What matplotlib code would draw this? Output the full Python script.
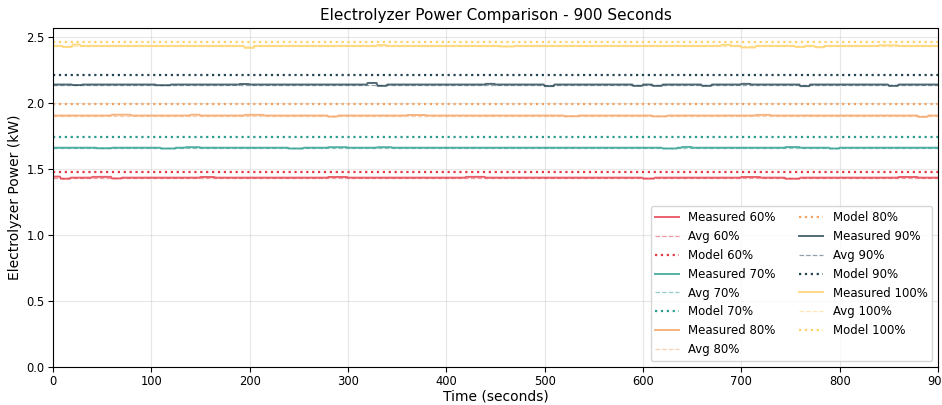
import numpy as np
import matplotlib.pyplot as plt

# 측정 데이터: 기본값 + 그림에서 읽은 작은 변동 (시작 s, 끝 s, 변화량 kW)
levels = ['60%', '70%', '80%', '90%', '100%']
colors = ['#E63946', '#2A9D8F', '#F4A261', '#264653', '#FFD166']
base = [1.435, 1.662, 1.906, 2.141, 2.434]
model = [1.476, 1.742, 1.995, 2.212, 2.465]
events = [
    [(0, 8, 0.008), (8, 18, -0.008), (40, 60, 0.006), (60, 70, -0.006), (150, 165, 0.005),
     (280, 300, 0.005), (420, 440, 0.006), (600, 612, -0.007), (700, 720, 0.005),
     (745, 760, -0.008), (860, 880, 0.005)],
    [(45, 60, -0.004), (110, 125, -0.006), (135, 150, 0.004), (240, 255, -0.006),
     (280, 300, 0.004), (330, 345, 0.004), (620, 635, -0.006), (640, 650, 0.006),
     (745, 760, 0.005), (790, 800, -0.006)],
    [(60, 80, 0.006), (140, 150, 0.006), (195, 215, 0.005), (280, 290, -0.008),
     (360, 380, 0.004), (520, 535, -0.005), (610, 625, -0.006), (715, 730, 0.005),
     (880, 890, -0.01)],
    [(20, 30, -0.004), (105, 120, -0.005), (190, 200, 0.004), (320, 330, 0.012),
     (330, 340, -0.01), (440, 450, 0.005), (500, 510, -0.012), (590, 600, -0.01),
     (610, 620, -0.01), (660, 670, -0.01), (700, 710, 0.005), (760, 770, -0.012),
     (850, 860, -0.01)],
    [(10, 20, -0.008), (20, 28, 0.01), (195, 205, -0.015), (330, 340, 0.006),
     (455, 470, -0.004), (680, 690, 0.008), (700, 715, -0.012), (755, 765, -0.008),
     (775, 785, -0.01), (840, 860, 0.004)],
]

t = np.arange(0, 901)

plt.figure(figsize=(9.42, 4.05))
for lvl, c, b, m, ev in zip(levels, colors, base, model, events):
    y = np.full(t.shape, b, dtype=float)
    for t0, t1, d in ev:
        y[(t >= t0) & (t < t1)] += d
    plt.plot(t, y, '-', color=c, lw=1.4, alpha=0.8, label=f'Measured {lvl}')
    plt.axhline(y.mean(), color=c, ls='--', lw=0.9, alpha=0.5, label=f'Avg {lvl}')
    plt.axhline(m, color=c, ls=':', lw=1.6, label=f'Model {lvl}')

plt.title('Electrolyzer Power Comparison - 900 Seconds', fontsize=11)
plt.xlabel('Time (seconds)', fontsize=10, labelpad=1)
plt.ylabel('Electrolyzer Power (kW)', fontsize=10, labelpad=3)
plt.xticks(fontsize=8.3)
plt.yticks(fontsize=8.3)
plt.tick_params(pad=2.5)
plt.xlim(0, 900)
plt.ylim(0, 2.57)
plt.grid(True, alpha=0.3)
plt.legend(loc='lower right', ncol=2, fontsize=8.5)
plt.subplots_adjust(left=0.0563, right=0.9958, top=0.931, bottom=0.094)
plt.savefig('out.png', dpi=100)
